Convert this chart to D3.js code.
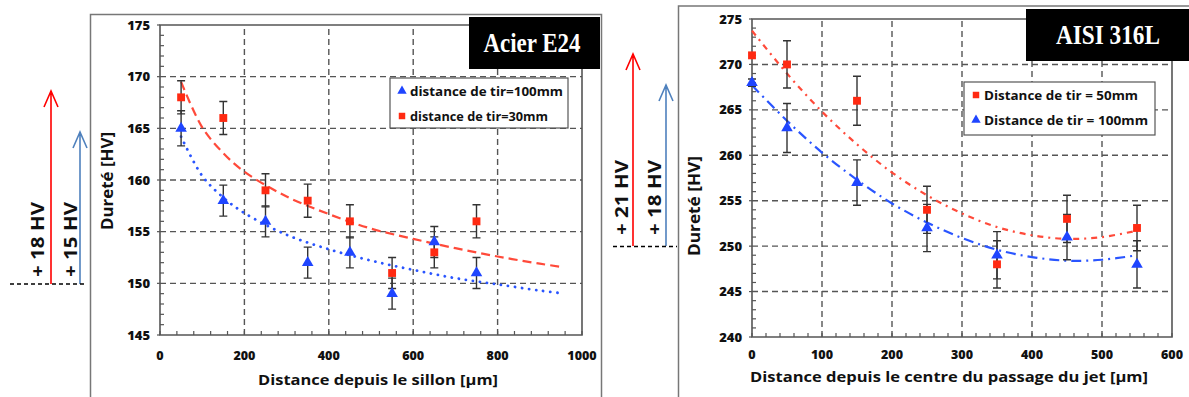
<!DOCTYPE html>
<html><head><meta charset="utf-8">
<script src="https://cdn.jsdelivr.net/npm/d3@7"></script>
<style>body{margin:0;background:#fff;}svg{display:block;}</style>
</head><body>
<svg id="c" width="1189" height="397"></svg>
<script>
// ---------- DATA: left chart (Acier E24) ----------
const leftX = [50,150,250,350,450,550,650,750];
const leftRed = [168,166,159,158,156,151,153,156];          // distance de tir=30mm
const leftRedErr = [1.6,1.6,1.6,1.6,1.6,1.5,1.5,1.6];
const leftBlue = [165,158,156,152,153,149,154,151];         // distance de tir=100mm
const leftBlueErr = [1.7,1.5,1.5,1.5,1.5,1.5,1.5,1.5];
const leftFitX = [50,100,150,200,300,400,500,600,700,800,900,950];
const leftRedFit = [169.5,165.1,162.6,160.8,158.4,156.7,155.3,154.3,153.4,152.6,151.9,151.6];
const leftBlueFit = [164.2,160.4,158.3,156.8,154.7,153.3,152.2,151.3,150.5,149.9,149.3,149.05];
const leftXTicks = [0,200,400,600,800,1000];
const leftYTicks = [145,150,155,160,165,170,175];

// ---------- DATA: right chart (AISI 316L) ----------
const rightX = [0,50,150,250,350,450,550];
const rightRed = [271,270,266,254,248,253,252];             // Distance de tir = 50mm
const rightRedErr = [0,2.6,2.7,2.6,2.6,2.6,2.5];
const rightBlue = [268,263,257,252,249,251,248];            // Distance de tir = 100mm
const rightBlueErr = [0.4,2.7,2.5,2.6,2.6,2.5,2.6];
const rightFitX = [0,50,100,150,200,250,300,350,400,450,500,550];
const rightRedFit = [273.7,269.0,264.8,261.2,258.1,255.6,253.6,252.1,251.2,250.8,251.0,251.7];
const rightBlueFit = [267.7,263.8,260.3,257.3,254.7,252.6,250.9,249.6,248.8,248.4,248.5,249.0];
const rightXTicks = [0,100,200,300,400,500,600];
const rightYTicks = [240,245,250,255,260,265,270,275];

const RED = "#ff2a12", BLUE = "#1f45ff";
const FONT = "'Open Sans', 'DejaVu Sans', sans-serif";
const svg = d3.select("#c");

// outer frames
svg.append("rect").attr("x",90.5).attr("y",14.5).attr("width",511).attr("height",400)
  .attr("fill","none").attr("stroke","#777").attr("stroke-width",1.5);
svg.append("rect").attr("x",678.5).attr("y",6).attr("width",520).attr("height",400)
  .attr("fill","none").attr("stroke","#777").attr("stroke-width",1.5);

function panel(o){
  const x = d3.scaleLinear().domain(o.xDomain).range(o.xRange);
  const y = d3.scaleLinear().domain(o.yDomain).range(o.yRange);
  const g = svg.append("g");
  const [x0,x1] = o.xRange, [y0,y1] = o.yRange;
  // grid
  g.selectAll(".gx").data(o.xTicks.filter(v=>v!==o.xDomain[0]&&v!==o.xDomain[1])).join("line")
    .attr("x1",d=>x(d)).attr("x2",d=>x(d)).attr("y1",y0).attr("y2",y1)
    .attr("stroke","#555").attr("stroke-width",1.4).attr("stroke-dasharray","6,4");
  g.selectAll(".gy").data(o.yTicks.filter(v=>v!==o.yDomain[0]&&v!==o.yDomain[1])).join("line")
    .attr("y1",d=>y(d)).attr("y2",d=>y(d)).attr("x1",x0).attr("x2",x1)
    .attr("stroke","#555").attr("stroke-width",1.4).attr("stroke-dasharray","6,4");
  // minor ticks
  const yMinor = d3.range(o.yDomain[0], o.yDomain[1]+0.001, 1);
  g.selectAll(".my").data(yMinor).join("line")
    .attr("x1",x0).attr("x2",d=>x0+ (d%5===0?0:4)).attr("y1",d=>y(d)).attr("y2",d=>y(d))
    .attr("stroke","#555").attr("stroke-width",1.2);
  g.selectAll(".My").data(o.yTicks).join("line")
    .attr("x1",x0-3).attr("x2",x0).attr("y1",d=>y(d)).attr("y2",d=>y(d))
    .attr("stroke","#555").attr("stroke-width",1.2);
  const xMinor = d3.range(o.xDomain[0], o.xDomain[1]+0.001, o.xMinor);
  g.selectAll(".mx").data(xMinor).join("line")
    .attr("x1",d=>x(d)).attr("x2",d=>x(d)).attr("y1",y0).attr("y2",y0-4)
    .attr("stroke","#555").attr("stroke-width",1.2);
  // plot border
  g.append("path").attr("d",`M${x0},${y0}H${x1}V${y1}H${x0}Z`)
    .attr("fill","none").attr("stroke","#555").attr("stroke-width",1.6);
  // tick labels
  g.selectAll(".ty").data(o.yTicks).join("text")
    .attr("x",x0-10).attr("y",d=>y(d)).attr("dy","0.35em").attr("text-anchor","end")
    .attr("font-family",FONT).attr("font-weight",800).attr("font-size",13).attr("fill","#111")
    .text(d=>d);
  g.selectAll(".tx").data(o.xTicks).join("text")
    .attr("x",d=>x(d)).attr("y",y0+o.xTickOff).attr("dy","0.35em").attr("text-anchor","middle")
    .attr("font-family",FONT).attr("font-weight",800).attr("font-size",12.5).attr("fill","#111")
    .text(d=>d);
  // axis titles
  g.append("text").attr("x",o.xTitlePos[0]).attr("y",o.xTitlePos[1]).attr("text-anchor","middle")
    .attr("dy","0.35em").attr("font-family",FONT).attr("font-weight",700).attr("font-size",15)
    .attr("fill","#111").attr("textLength",o.xTitleLen).attr("lengthAdjust","spacingAndGlyphs").text(o.xTitle);
  g.append("text").attr("transform",`translate(${o.yTitlePos[0]},${o.yTitlePos[1]}) rotate(-90)`)
    .attr("text-anchor","middle").attr("dy","0.35em").attr("font-family",FONT).attr("font-weight",700)
    .attr("font-size",15.5).attr("fill","#111").attr("textLength",o.yTitleLen).attr("lengthAdjust","spacingAndGlyphs")
    .text("Dureté [HV]");
  // fit curves
  const line = d3.line().x(d=>x(d[0])).y(d=>y(d[1])).curve(d3.curveCatmullRom);
  o.fits.forEach(f=>{
    g.append("path").attr("d",line(o.fitX.map((v,i)=>[v,f.vals[i]])))
      .attr("fill","none").attr("stroke",f.color).attr("stroke-width",f.w)
      .attr("stroke-dasharray",f.dash).attr("stroke-linecap",f.cap||"butt");
  });
  // error bars
  o.series.forEach(s=>{
    s.vals.forEach((v,i)=>{
      const e = s.err[i]; if(!e) return;
      const cx = x(o.X[i]), ya = y(v+e), yb = y(v-e);
      g.append("path").attr("d",`M${cx},${ya}V${yb}M${cx-4},${ya}H${cx+4}M${cx-4},${yb}H${cx+4}`)
        .attr("stroke","#333").attr("stroke-width",1.4).attr("fill","none");
    });
  });
  // markers
  o.series.forEach(s=>{
    const sym = d3.symbol().type(s.shape==="sq"?d3.symbolSquare:d3.symbolTriangle).size(s.shape==="sq"?62:58);
    g.selectAll(null).data(s.vals).join("path")
      .attr("transform",(d,i)=>`translate(${x(o.X[i])},${y(d)})`)
      .attr("d",sym).attr("fill",s.color);
  });
  // legend
  const L = o.legend;
  g.append("rect").attr("x",L.x).attr("y",L.y).attr("width",L.w).attr("height",L.h)
    .attr("fill","#fff").attr("stroke","#555").attr("stroke-width",1.2);
  L.items.forEach((it,i)=>{
    const cy = L.y + 13 + i*25;
    const sym = d3.symbol().type(it.shape==="sq"?d3.symbolSquare:d3.symbolTriangle).size(it.shape==="sq"?42:38);
    g.append("path").attr("transform",`translate(${L.x+12},${cy})`).attr("d",sym).attr("fill",it.color);
    g.append("text").attr("x",L.x+20).attr("y",cy).attr("dy","0.35em")
      .attr("font-family",FONT).attr("font-weight",700).attr("font-size",13).attr("fill","#111")
      .attr("textLength",L.tl[i]).attr("lengthAdjust","spacingAndGlyphs").text(it.label);
  });
  // title box
  const T = o.tbox;
  g.append("rect").attr("x",T.x).attr("y",T.y).attr("width",T.w).attr("height",T.h).attr("fill","#000");
  g.append("text").attr("x",T.tx).attr("y",T.y+T.h/2).attr("dy","0.35em").attr("text-anchor","middle")
    .attr("font-family","'Liberation Serif','Times New Roman',serif").attr("font-weight",700)
    .attr("font-size",27).attr("fill","#fff").attr("textLength",T.tl).attr("lengthAdjust","spacingAndGlyphs")
    .text(T.text);
}

panel({
  xDomain:[0,1000], xRange:[160,582], yDomain:[145,175], yRange:[335,25],
  xTicks:leftXTicks, yTicks:leftYTicks, xMinor:40, xTickOff:21,
  xTitle:"Distance depuis le sillon [µm]", xTitlePos:[378,380], xTitleLen:240,
  yTitlePos:[108,181], yTitleLen:98,
  X:leftX, fitX:leftFitX,
  fits:[
    {vals:leftRedFit, color:"#ff4a3a", w:2.2, dash:"9,5"},
    {vals:leftBlueFit, color:"#2a55ff", w:2.8, dash:"0.1,7", cap:"round"}
  ],
  series:[
    {vals:leftBlue, err:leftBlueErr, color:BLUE, shape:"tri"},
    {vals:leftRed, err:leftRedErr, color:RED, shape:"sq"}
  ],
  legend:{x:390,y:78,w:178,h:50,tl:[153,138],items:[
    {shape:"tri",color:BLUE,label:"distance de tir=100mm"},
    {shape:"sq",color:RED,label:"distance de tir=30mm"}]},
  tbox:{x:469,y:17,w:131,h:52,tx:532,tl:97,text:"Acier E24"}
});

panel({
  xDomain:[0,600], xRange:[752,1172], yDomain:[240,275], yRange:[337,19],
  xTicks:rightXTicks, yTicks:rightYTicks, xMinor:20, xTickOff:18,
  xTitle:"Distance depuis le centre du passage du jet [µm]", xTitlePos:[949,377], xTitleLen:398,
  yTitlePos:[695,206], yTitleLen:100,
  X:rightX, fitX:rightFitX,
  fits:[
    {vals:rightRedFit, color:"#ff4a3a", w:2.2, dash:"6,5,2,5"},
    {vals:rightBlueFit, color:"#2a55ff", w:2.2, dash:"10,5,2,5"}
  ],
  series:[
    {vals:rightRed, err:rightRedErr, color:RED, shape:"sq"},
    {vals:rightBlue, err:rightBlueErr, color:BLUE, shape:"tri"}
  ],
  legend:{x:964,y:82,w:191,h:53,tl:[154,164],items:[
    {shape:"sq",color:RED,label:"Distance de tir = 50mm"},
    {shape:"tri",color:BLUE,label:"Distance de tir = 100mm"}]},
  tbox:{x:1026,y:9,w:170,h:52,tx:1108,tl:104,text:"AISI 316L"}
});

// gain arrows
function arrow(xp, yTop, yBot, color){
  svg.append("path").attr("d",`M${xp},${yBot}V${yTop}M${xp-7},${yTop+16}L${xp},${yTop}L${xp+7},${yTop+16}`)
    .attr("fill","none").attr("stroke",color).attr("stroke-width",1.6);
}
function gainLabel(xp, yStart, txt){
  svg.append("text").attr("transform",`translate(${xp},${yStart}) rotate(-90)`)
    .attr("dy","0.35em").attr("font-family",FONT).attr("font-weight",700).attr("font-size",18)
    .attr("fill","#111").attr("textLength",75).attr("lengthAdjust","spacingAndGlyphs").text(txt);
}
arrow(51, 91, 284, "#ff0000");
arrow(80, 132, 284, "#4f81bd");
svg.append("line").attr("x1",10).attr("x2",87).attr("y1",284).attr("y2",284)
  .attr("stroke","#000").attr("stroke-width",1.6).attr("stroke-dasharray","4,3");
gainLabel(38, 277, "+ 18 HV");
gainLabel(71, 277, "+ 15 HV");

arrow(633, 54, 246, "#ff0000");
arrow(666, 85, 246, "#4f81bd");
svg.append("line").attr("x1",613).attr("x2",677).attr("y1",246.5).attr("y2",246.5)
  .attr("stroke","#000").attr("stroke-width",1.6).attr("stroke-dasharray","4,3");
gainLabel(622, 235, "+ 21 HV");
gainLabel(655, 235, "+ 18 HV");
</script>
</body></html>
